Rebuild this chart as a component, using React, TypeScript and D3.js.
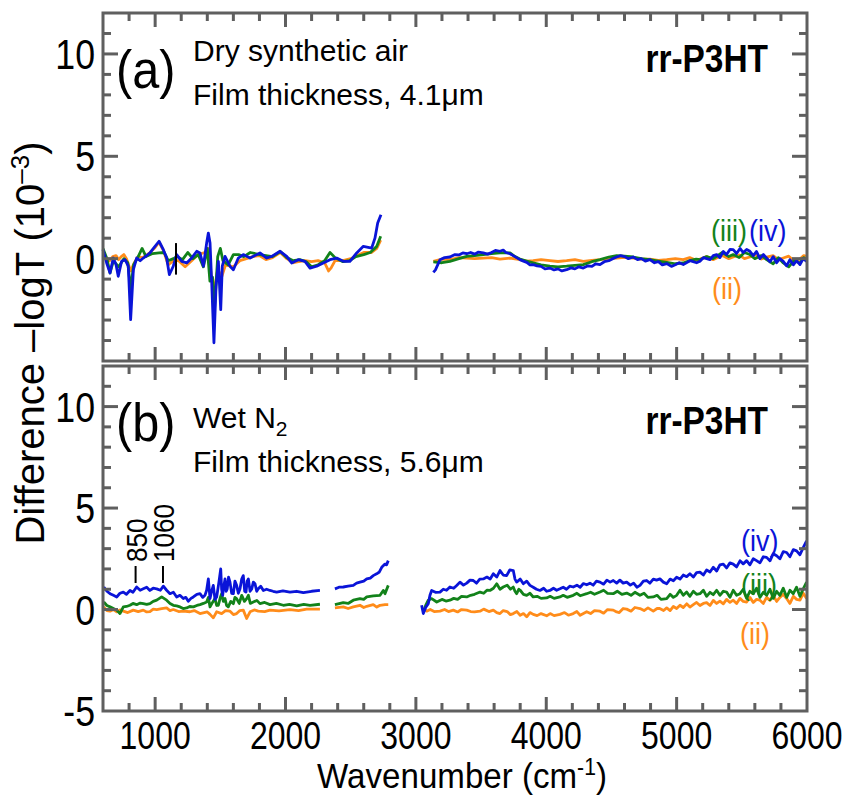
import React from "react";
import * as d3 from "d3";

// ---------- data (wavenumber cm-1, difference -logT x10^-3) ----------
const xMajorTicks = [1000, 2000, 3000, 4000, 5000, 6000];
const yLabelsA = [0, 5, 10];
const yLabelsB = [-5, 0, 5, 10];

// Panel (a) – Dry synthetic air
const aOrange: number[][][] = [
  [[600,0.2],[625,0.05],[650,-0.1],[675,0.1],[700,0.15],[720,-0.05],[740,0.1],[760,0.2],[780,0.0],[812,-0.6],[840,-0.2],[870,0.1],[900,0.05],[930,0.15],[960,0.3],[1000,0.55],[1030,0.8],[1063,0.4],[1100,-0.3],[1140,-0.1],[1180,-0.1],[1230,-0.4],[1280,-0.1],[1330,0.2],[1380,0.3],[1410,0.5],[1430,-0.8],[1455,-1.5],[1480,-0.5],[1510,-0.9],[1540,-0.3],[1600,-0.4],[1650,-0.1],[1700,0.0],[1750,0.1],[1800,0.15],[1850,-0.05],[1900,0.05],[1960,0.3],[2010,0.0],[2060,-0.2],[2100,-0.15],[2150,-0.1],[2200,-0.15],[2250,-0.1],[2300,-0.2],[2330,-0.6],[2350,-0.45],[2380,-0.1],[2440,-0.1],[2500,0.0],[2550,0.15],[2600,0.3],[2660,0.3],[2700,0.5],[2730,0.9]],
  [[3134,-0.13],[3200,-0.02],[3261,-0.05],[3330,0.05],[3390,0.03],[3450,0.0],[3517,0.03],[3580,0.05],[3645,-0.02],[3722,0.03],[3798,-0.05],[3850,-0.12],[3900,-0.1],[3960,-0.05],[4028,-0.1],[4090,-0.14],[4156,-0.1],[4220,-0.05],[4284,-0.13],[4350,-0.08],[4412,-0.05],[4480,0.0],[4540,0.03],[4600,0.06],[4667,0.03],[4730,-0.02],[4795,-0.02],[4860,-0.08],[4924,-0.05],[4990,0.0],[5051,-0.05],[5100,0.05],[5150,-0.08],[5179,-0.02],[5230,0.1],[5280,-0.05],[5307,0.03],[5350,0.15],[5400,0.0],[5434,0.08],[5480,0.18],[5520,0.0],[5562,0.08],[5600,0.2],[5650,-0.02],[5690,0.08],[5740,0.15],[5780,-0.05],[5818,0.03],[5860,0.12],[5900,-0.1],[5946,-0.02],[5975,0.15],[5997,0.11]],
];
const aGreen: number[][][] = [
  [[600,0.5],[630,0.0],[654,-0.7],[680,-0.1],[720,-0.4],[760,0.0],[790,-0.2],[812,-1.5],[835,-0.3],[870,0.1],[900,0.5],[930,0.1],[980,0.25],[1030,0.28],[1070,0.3],[1100,-0.1],[1140,0.0],[1170,0.1],[1210,-0.05],[1250,0.3],[1290,0.0],[1330,0.2],[1370,-0.4],[1400,0.5],[1420,-1.1],[1440,-0.9],[1455,-2.5],[1480,0.1],[1500,0.5],[1520,-0.1],[1560,-0.3],[1600,0.2],[1640,0.2],[1680,0.1],[1730,0.3],[1800,0.2],[1850,0.15],[1900,0.1],[1960,0.35],[2010,0.05],[2060,-0.1],[2110,-0.05],[2160,-0.15],[2200,-0.4],[2250,-0.3],[2300,-0.1],[2341,0.3],[2380,0.05],[2440,-0.15],[2490,-0.1],[2540,0.1],[2600,0.2],[2650,0.3],[2700,0.6],[2730,1.1]],
  [[3134,-0.16],[3200,-0.2],[3261,-0.13],[3330,0.0],[3390,0.11],[3450,0.15],[3517,0.2],[3580,0.25],[3645,0.28],[3722,0.28],[3760,0.1],[3798,-0.02],[3850,-0.12],[3900,-0.21],[3960,-0.3],[4028,-0.37],[4090,-0.4],[4156,-0.37],[4220,-0.33],[4284,-0.29],[4350,-0.15],[4412,-0.05],[4480,0.08],[4540,0.15],[4600,0.12],[4667,0.08],[4730,0.0],[4795,-0.05],[4860,-0.12],[4924,-0.18],[4990,-0.25],[5051,-0.21],[5100,-0.1],[5150,-0.02],[5179,-0.05],[5230,0.1],[5280,0.0],[5307,0.11],[5350,0.3],[5400,0.1],[5434,0.2],[5480,0.05],[5520,0.3],[5562,0.2],[5600,0.0],[5650,0.15],[5690,-0.05],[5740,-0.25],[5780,0.05],[5818,-0.21],[5860,-0.4],[5900,-0.1],[5946,-0.21],[5975,0.05],[5997,-0.05]],
];
const aBlue: number[][][] = [
  [[600,0.44],[628,-0.21],[654,-0.7],[679,0.03],[700,-0.3],[717,-0.86],[743,-0.13],[769,-0.05],[794,-0.37],[812,-2.98],[833,-0.54],[858,0.03],[885,-0.1],[909,0.03],[935,0.15],[960,0.28],[999,0.6],[1030,0.85],[1063,0.44],[1088,0.03],[1109,-0.78],[1139,-0.37],[1165,0.2],[1204,-0.13],[1242,-0.21],[1280,0.03],[1319,0.36],[1344,0.28],[1370,-0.37],[1395,0.76],[1408,1.25],[1421,0.76],[1434,-1.19],[1451,-4.11],[1467,-1.35],[1485,-0.13],[1503,-2.49],[1515,-0.37],[1536,0.11],[1574,-0.37],[1600,-0.54],[1638,0.03],[1676,0.2],[1728,0.03],[1804,0.28],[1856,0.03],[1894,0.11],[1958,0.36],[2009,0.11],[2047,-0.21],[2098,-0.05],[2149,-0.13],[2188,-0.46],[2239,-0.37],[2290,-0.21],[2341,-0.05],[2392,0.03],[2443,-0.13],[2494,-0.13],[2546,0.28],[2597,0.6],[2661,0.52],[2686,1.0],[2707,1.74],[2732,2.15]],
  [[3134,-0.67],[3150,-0.55],[3185,-0.05],[3220,0.05],[3261,0.08],[3300,0.2],[3330,0.18],[3360,0.28],[3390,0.24],[3420,0.3],[3450,0.22],[3480,0.32],[3517,0.28],[3550,0.22],[3580,0.3],[3610,0.4],[3645,0.36],[3670,0.42],[3690,0.3],[3722,0.24],[3760,0.1],[3798,-0.05],[3825,-0.12],[3850,-0.18],[3875,-0.3],[3900,-0.29],[3930,-0.35],[3960,-0.38],[3990,-0.5],[4028,-0.46],[4060,-0.55],[4090,-0.5],[4120,-0.6],[4156,-0.54],[4190,-0.45],[4220,-0.5],[4250,-0.4],[4284,-0.46],[4320,-0.35],[4350,-0.38],[4380,-0.25],[4412,-0.29],[4445,-0.15],[4480,-0.1],[4510,0.0],[4540,0.08],[4570,0.15],[4600,0.1],[4630,0.0],[4667,0.08],[4700,-0.05],[4730,0.0],[4760,-0.12],[4795,-0.05],[4830,-0.2],[4860,-0.15],[4890,-0.3],[4924,-0.24],[4960,-0.38],[4990,-0.3],[5020,-0.2],[5051,-0.29],[5102,-0.1],[5153,-0.2],[5179,-0.13],[5205,0.05],[5256,-0.05],[5281,0.15],[5307,0.2],[5332,0.05],[5358,0.35],[5383,0.2],[5409,0.45],[5434,0.44],[5460,0.25],[5486,0.5],[5511,0.3],[5537,0.45],[5562,0.36],[5588,0.15],[5613,0.35],[5639,0.0],[5665,0.2],[5690,0.03],[5716,-0.15],[5741,0.1],[5767,-0.2],[5792,0.0],[5818,-0.13],[5844,-0.35],[5869,-0.05],[5895,-0.3],[5920,-0.1],[5946,-0.29],[5971,0.0],[5997,-0.13]],
];

// Panel (b) – Wet N2
const bOrange: number[][][] = [
  [[606,0.13],[630,-0.05],[654,-0.08],[680,0.0],[705,-0.11],[730,-0.02],[756,-0.08],[790,-0.15],[832,-0.03],[870,-0.1],[909,-0.03],[935,-0.12],[960,-0.1],[985,0.02],[1012,0.0],[1050,0.05],[1088,0.08],[1114,-0.05],[1139,0.0],[1180,-0.1],[1216,-0.08],[1267,-0.11],[1300,-0.05],[1344,-0.2],[1400,-0.12],[1421,-0.24],[1446,-0.41],[1472,-0.11],[1510,-0.2],[1540,-0.05],[1574,-0.08],[1600,-0.25],[1625,-0.2],[1650,-0.05],[1676,-0.03],[1702,-0.44],[1728,-0.11],[1760,-0.02],[1791,-0.08],[1840,-0.1],[1881,-0.03],[1950,-0.07],[2034,0.0],[2100,-0.05],[2162,0.02],[2264,0.02]],
  [[2379,0.08],[2443,0.13],[2480,0.05],[2520,0.13],[2571,0.21],[2600,0.1],[2623,0.16],[2673,0.24],[2700,0.12],[2725,0.21],[2763,0.24],[2788,0.24]],
  [[3057,0.05],[3083,-0.08],[3110,0.0],[3140,-0.1],[3185,-0.08],[3220,0.0],[3250,-0.1],[3287,-0.03],[3320,-0.12],[3350,0.0],[3390,-0.03],[3420,-0.1],[3450,-0.12],[3492,-0.08],[3520,0.02],[3560,-0.1],[3594,-0.03],[3620,-0.15],[3645,-0.2],[3670,-0.05],[3700,-0.1],[3725,-0.25],[3747,-0.2],[3775,-0.1],[3800,-0.28],[3825,-0.2],[3850,-0.36],[3875,-0.15],[3900,-0.24],[3930,-0.3],[3960,-0.2],[4003,-0.31],[4030,-0.2],[4060,-0.3],[4105,-0.24],[4140,-0.15],[4170,-0.28],[4207,-0.2],[4235,-0.1],[4260,-0.28],[4310,-0.11],[4340,-0.2],[4370,-0.05],[4412,-0.08],[4440,-0.18],[4470,0.0],[4514,-0.03],[4540,-0.12],[4560,-0.15],[4590,0.05],[4617,0.02],[4650,-0.08],[4680,0.1],[4719,0.05],[4750,-0.05],[4780,0.08],[4821,-0.08],[4850,0.05],[4870,0.05],[4900,-0.05],[4924,0.08],[4950,-0.05],[4975,0.15],[5000,0.05],[5026,0.21],[5051,0.1],[5077,0.28],[5102,0.12],[5128,0.24],[5153,0.35],[5179,0.2],[5205,0.3],[5230,0.34],[5256,0.2],[5281,0.45],[5307,0.3],[5332,0.41],[5358,0.28],[5383,0.5],[5409,0.35],[5434,0.46],[5460,0.3],[5486,0.55],[5511,0.4],[5537,0.37],[5562,0.6],[5588,0.35],[5613,0.5],[5639,0.46],[5665,0.3],[5690,0.6],[5716,0.45],[5741,0.7],[5767,0.4],[5792,0.6],[5818,0.75],[5844,0.54],[5869,0.3],[5895,0.65],[5920,0.5],[5946,0.46],[5971,0.8],[5997,0.54]],
];
const bGreen: number[][][] = [
  [[606,0.37],[630,0.2],[654,0.13],[680,0.05],[705,-0.03],[730,-0.2],[756,0.13],[780,0.15],[807,0.21],[830,0.3],[858,0.24],[885,0.32],[909,0.29],[935,0.25],[960,0.29],[985,0.4],[1012,0.46],[1050,0.62],[1088,0.46],[1114,0.3],[1139,0.21],[1165,0.18],[1191,0.13],[1215,0.05],[1242,0.08],[1265,0.15],[1293,0.13],[1320,0.2],[1344,0.24],[1370,0.3],[1395,0.37],[1408,0.6],[1421,0.13],[1440,0.35],[1459,0.54],[1472,0.2],[1485,0.21],[1500,0.6],[1510,0.78],[1523,0.4],[1536,0.54],[1548,0.2],[1561,0.13],[1580,0.4],[1600,0.29],[1612,0.6],[1625,0.54],[1645,0.3],[1664,0.7],[1685,0.4],[1702,0.54],[1715,0.7],[1730,0.3],[1753,0.37],[1780,0.45],[1804,0.29],[1840,0.35],[1881,0.24],[1930,0.3],[1983,0.21],[2030,0.25],[2086,0.18],[2140,0.25],[2188,0.21],[2264,0.26]],
  [[2379,0.24],[2443,0.34],[2480,0.3],[2520,0.46],[2571,0.54],[2600,0.5],[2623,0.62],[2673,0.67],[2725,0.7],[2750,0.94],[2763,0.78],[2788,1.19]],
  [[3057,-0.11],[3075,0.2],[3095,0.46],[3121,0.54],[3160,0.37],[3200,0.5],[3230,0.42],[3261,0.46],[3290,0.55],[3320,0.5],[3350,0.65],[3390,0.62],[3420,0.7],[3450,0.75],[3492,0.86],[3520,0.8],[3545,0.95],[3568,0.94],[3595,1.05],[3620,1.27],[3645,1.0],[3670,1.11],[3700,1.2],[3725,1.0],[3747,1.11],[3760,0.9],[3773,0.78],[3790,1.0],[3800,0.95],[3825,0.75],[3850,0.7],[3875,0.8],[3900,0.62],[3930,0.65],[3960,0.55],[4003,0.57],[4030,0.65],[4060,0.55],[4105,0.62],[4130,0.7],[4160,0.6],[4207,0.7],[4235,0.8],[4260,0.68],[4310,0.78],[4340,0.85],[4370,0.75],[4412,0.86],[4440,0.95],[4470,0.8],[4514,0.78],[4545,0.9],[4580,0.75],[4617,0.81],[4650,0.7],[4680,0.85],[4719,0.7],[4750,0.8],[4780,0.6],[4821,0.62],[4850,0.7],[4880,0.5],[4924,0.54],[4950,0.75],[4975,0.6],[5000,0.7],[5026,0.95],[5051,0.7],[5077,0.86],[5102,0.65],[5128,0.9],[5153,0.75],[5179,0.78],[5205,0.95],[5230,0.65],[5256,0.85],[5281,0.73],[5307,0.95],[5332,0.7],[5358,0.9],[5383,0.86],[5409,0.6],[5434,0.95],[5460,0.7],[5486,0.78],[5511,1.0],[5537,0.55],[5562,0.9],[5588,0.78],[5613,1.05],[5639,0.6],[5665,0.85],[5690,0.7],[5716,1.0],[5741,0.55],[5767,0.9],[5792,0.7],[5818,1.05],[5844,0.6],[5869,0.95],[5895,0.78],[5920,1.1],[5946,0.65],[5971,1.02],[5997,1.35]],
];
const bBlue: number[][][] = [
  [[606,1.11],[630,0.9],[654,0.78],[680,0.7],[705,0.62],[730,0.8],[756,0.86],[780,0.75],[807,0.94],[830,0.85],[858,1.11],[885,0.95],[909,1.02],[935,1.1],[960,0.94],[985,1.05],[1012,1.02],[1040,0.95],[1063,1.15],[1088,0.95],[1114,0.78],[1140,0.85],[1165,0.62],[1190,0.7],[1216,0.54],[1235,0.6],[1254,0.41],[1275,0.55],[1293,0.62],[1320,0.75],[1344,0.78],[1365,0.6],[1382,0.7],[1395,0.95],[1408,1.51],[1421,0.54],[1433,0.9],[1446,1.19],[1459,0.5],[1472,0.62],[1488,1.3],[1503,2.0],[1510,1.0],[1518,0.7],[1528,1.2],[1536,1.51],[1545,0.9],[1553,1.02],[1563,1.6],[1574,1.35],[1587,0.8],[1600,0.78],[1612,1.4],[1625,1.19],[1638,0.8],[1651,1.02],[1664,1.5],[1676,1.67],[1687,0.9],[1697,0.86],[1706,1.4],[1715,1.51],[1728,0.9],[1741,1.02],[1753,1.35],[1766,1.27],[1779,0.9],[1791,1.02],[1810,1.15],[1830,0.94],[1855,1.0],[1881,0.94],[1905,0.9],[1932,0.86],[1980,0.92],[2034,0.86],[2085,0.9],[2137,0.83],[2200,0.9],[2264,0.94]],
  [[2379,1.02],[2410,1.1],[2443,1.11],[2480,1.15],[2520,1.19],[2545,1.3],[2571,1.35],[2600,1.4],[2623,1.51],[2650,1.55],[2673,1.67],[2699,1.76],[2720,1.85],[2738,2.08],[2763,2.24],[2775,2.2],[2788,2.41]],
  [[3044,0.21],[3057,-0.2],[3075,0.1],[3095,0.29],[3108,0.7],[3121,0.94],[3150,0.85],[3185,0.86],[3210,1.0],[3235,0.95],[3261,1.11],[3290,1.05],[3315,1.2],[3338,1.35],[3365,1.2],[3390,1.3],[3415,1.45],[3440,1.43],[3465,1.3],[3490,1.5],[3517,1.51],[3545,1.6],[3570,1.5],[3594,1.76],[3620,1.6],[3645,1.92],[3670,1.7],[3696,1.67],[3720,1.95],[3747,1.92],[3760,1.5],[3773,1.35],[3800,1.5],[3824,1.27],[3850,1.4],[3875,1.19],[3900,1.1],[3925,1.0],[3952,0.94],[3980,1.05],[4003,0.9],[4028,0.94],[4055,1.05],[4080,0.95],[4105,1.02],[4130,1.1],[4155,1.0],[4180,1.15],[4207,1.11],[4235,1.2],[4260,1.1],[4285,1.28],[4310,1.22],[4335,1.3],[4360,1.2],[4385,1.4],[4412,1.35],[4440,1.25],[4465,1.45],[4490,1.35],[4514,1.43],[4540,1.3],[4565,1.45],[4590,1.3],[4617,1.35],[4645,1.2],[4670,1.3],[4695,1.1],[4719,1.19],[4745,1.4],[4770,1.43],[4795,1.3],[4821,1.5],[4846,1.45],[4872,1.51],[4898,1.35],[4924,1.27],[4950,1.5],[4975,1.42],[5000,1.59],[5026,1.5],[5051,1.7],[5077,1.62],[5102,1.76],[5128,1.6],[5153,1.82],[5179,1.84],[5205,1.7],[5230,1.95],[5256,1.85],[5281,2.08],[5307,1.9],[5332,2.2],[5358,2.24],[5383,2.05],[5409,2.3],[5434,2.24],[5460,2.1],[5486,2.4],[5511,2.25],[5537,2.41],[5562,2.2],[5588,2.5],[5613,2.41],[5639,2.3],[5665,2.6],[5690,2.57],[5716,2.4],[5741,2.75],[5767,2.65],[5792,2.5],[5818,2.85],[5844,2.81],[5869,2.6],[5895,2.95],[5920,2.89],[5946,2.7],[5971,3.05],[5997,3.38]],
];

const markerA = 1160;           // vertical black marker in panel (a)
const peakMarks = [850, 1060];  // annotated peaks in panel (b)

// ---------- layout ----------
const COLORS = { orange: "#ff8c1a", green: "#12821a", blue: "#0a14d8", axis: "#5f5f5f" };
const FONT = "'Liberation Sans', Arial, sans-serif";

const x = d3.scaleLinear().domain([600, 6000]).range([103, 807]);
const yA = d3.scaleLinear().domain([-5, 12]).range([361, 13]);
const yB = d3.scaleLinear().domain([-5, 12]).range([711, 366]);

const xMinor = d3.range(800, 6000, 200).filter((v) => v % 1000 !== 0);
const yMinor = d3.range(-4, 12, 1).filter((v) => v % 5 !== 0);
const yMajor = [0, 5, 10];

// condensed text helper (no narrow font installed)
function T({ x: tx, y: ty, sx = 1, children, ...rest }: any) {
  return (
    <text transform={`translate(${tx},${ty}) scale(${sx},1)`} {...rest}>
      {children}
    </text>
  );
}

function Lines({ y, series }: { y: d3.ScaleLinear<number, number>; series: [number[][][], string][] }) {
  const line = d3.line<number[]>().x((d) => x(d[0])).y((d) => y(d[1]));
  return (
    <g>
      {series.map(([segs, color], i) =>
        segs.map((seg, j) => (
          <path key={`${i}-${j}`} d={line(seg) || ""} fill="none" stroke={color} strokeWidth={2.8} strokeLinejoin="round" />
        ))
      )}
    </g>
  );
}

function Frame({ y }: { y: d3.ScaleLinear<number, number> }) {
  const [bot, top] = y.range();
  const L = x.range()[0], R = x.range()[1];
  const ticks: any[] = [];
  xMajorTicks.slice(0, 5).forEach((v) => {
    ticks.push(<line key={`xb${v}`} x1={x(v)} x2={x(v)} y1={bot} y2={bot - 14} />);
    ticks.push(<line key={`xt${v}`} x1={x(v)} x2={x(v)} y1={top} y2={top + 14} />);
  });
  xMinor.forEach((v) => {
    ticks.push(<line key={`xbm${v}`} x1={x(v)} x2={x(v)} y1={bot} y2={bot - 8} />);
    ticks.push(<line key={`xtm${v}`} x1={x(v)} x2={x(v)} y1={top} y2={top + 8} />);
  });
  yMajor.forEach((v) => {
    ticks.push(<line key={`yl${v}`} x1={L} x2={L + 15} y1={y(v)} y2={y(v)} />);
    ticks.push(<line key={`yr${v}`} x1={R} x2={R - 15} y1={y(v)} y2={y(v)} />);
  });
  yMinor.forEach((v) => {
    ticks.push(<line key={`ylm${v}`} x1={L} x2={L + 8} y1={y(v)} y2={y(v)} />);
    ticks.push(<line key={`yrm${v}`} x1={R} x2={R - 8} y1={y(v)} y2={y(v)} />);
  });
  return (
    <g stroke={COLORS.axis} strokeWidth={3} fill="none">
      {ticks}
      <rect x={L} y={top} width={R - L} height={bot - top} />
    </g>
  );
}

export default function App() {
  return (
    <svg width={851} height={797} style={{ position: "absolute", left: 0, top: 0, background: "#fff" }} fontFamily={FONT}>
      <rect width={851} height={797} fill="#fff" />
      {/* panel (a) */}
      <Lines y={yA} series={[[aOrange, COLORS.orange], [aGreen, COLORS.green], [aBlue, COLORS.blue]]} />
      <line x1={x(markerA)} x2={x(markerA)} y1={yA(0.76)} y2={yA(-0.78)} stroke="#000" strokeWidth={2} />
      <Frame y={yA} />
      {/* panel (b) */}
      <Lines y={yB} series={[[bOrange, COLORS.orange], [bGreen, COLORS.green], [bBlue, COLORS.blue]]} />
      <Frame y={yB} />
      {peakMarks.map((p) => (
        <g key={p}>
          <line x1={x(p)} x2={x(p)} y1={566} y2={583} stroke="#000" strokeWidth={2} />
          <text transform={`translate(${x(p) + 11},562) rotate(-90) scale(0.9,1)`} fontSize={29} fill="#000">{p}</text>
        </g>
      ))}

      {/* y tick labels */}
      {yLabelsA.map((v) => (
        <T key={`la${v}`} x={95} y={yA(v)} sx={0.85} dy="0.36em" textAnchor="end" fontSize={42}>{v}</T>
      ))}
      {yLabelsB.map((v) => (
        <T key={`lb${v}`} x={95} y={yB(v)} sx={0.85} dy="0.36em" textAnchor="end" fontSize={42}>{v}</T>
      ))}
      {/* x tick labels */}
      {xMajorTicks.map((v) => (
        <T key={`lx${v}`} x={x(v)} y={749} sx={0.82} textAnchor="middle" fontSize={39}>{v}</T>
      ))}
      {/* axis titles */}
      <T x={462} y={788} sx={0.92} textAnchor="middle" fontSize={36}>
        Wavenumber (cm<tspan dy={-13} fontSize={23}>-1</tspan><tspan dy={13}>)</tspan>
      </T>
      <text transform="translate(44,343) rotate(-90)" textAnchor="middle" fontSize={40}>
        Difference –logT (10<tspan dy={-15} fontSize={26}>–3</tspan><tspan dy={15}>)</tspan>
      </text>

      {/* panel (a) annotations */}
      <T x={116} y={88} sx={0.9} fontSize={54}>(a)</T>
      <text x={193} y={61} fontSize={30}>Dry synthetic air</text>
      <text x={193} y={105} fontSize={30}>Film thickness, 4.1μm</text>
      <T x={768} y={72} sx={0.88} fontSize={38} fontWeight="bold" textAnchor="end">rr-P3HT</T>
      <T x={711} y={241} sx={0.9} fontSize={30} fill={COLORS.green}>(iii)</T>
      <T x={749} y={241} sx={0.9} fontSize={30} fill={COLORS.blue}>(iv)</T>
      <T x={712} y={299} sx={0.9} fontSize={30} fill={COLORS.orange}>(ii)</T>

      {/* panel (b) annotations */}
      <T x={116} y={441} sx={0.9} fontSize={54}>(b)</T>
      <text x={193} y={428} fontSize={30}>Wet N<tspan dy={8} fontSize={21}>2</tspan></text>
      <text x={193} y={472} fontSize={30}>Film thickness, 5.6μm</text>
      <T x={768} y={434} sx={0.88} fontSize={38} fontWeight="bold" textAnchor="end">rr-P3HT</T>
      <T x={741} y={551} sx={0.9} fontSize={30} fill={COLORS.blue}>(iv)</T>
      <T x={741} y={595} sx={0.9} fontSize={30} fill={COLORS.green}>(iii)</T>
      <T x={740} y={644} sx={0.9} fontSize={30} fill={COLORS.orange}>(ii)</T>
    </svg>
  );
}
